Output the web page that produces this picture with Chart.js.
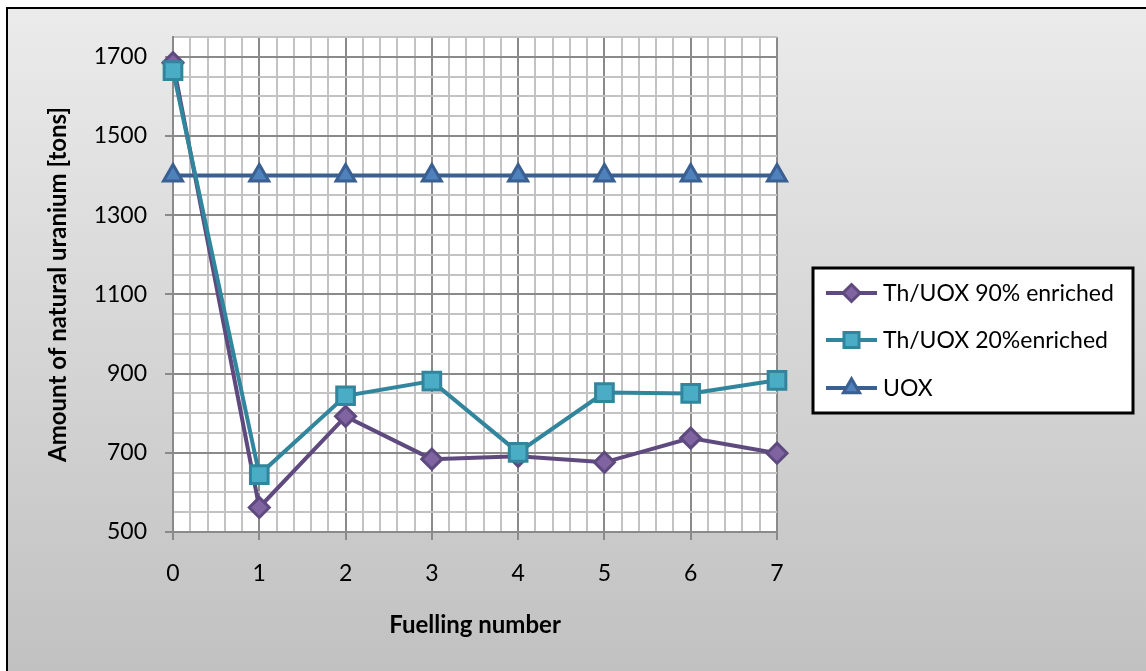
<!DOCTYPE html>
<html>
<head>
<meta charset="utf-8">
<script src="https://cdn.jsdelivr.net/npm/chart.js@4/dist/chart.umd.min.js"></script>
<style>
  html, body { margin: 0; padding: 0; background: #ffffff; }
  #wrap { width: 1146px; height: 671px; }
</style>
</head>
<body>
<div id="wrap"><canvas id="c" width="1146" height="671"></canvas></div>
<script>
// Fuelling numbers (x axis)
const fuellings = [0, 1, 2, 3, 4, 5, 6, 7];

// Amount of natural uranium [tons] per fuelling
const th90 = [1685, 562, 792, 684, 691, 676, 737, 699];
const th20 = [1665, 645, 844, 881, 701, 852, 850, 883];
const uox  = [1400, 1400, 1400, 1400, 1400, 1400, 1400, 1400];

const seriesNames = ['Th/UOX 90% enriched', 'Th/UOX 20%enriched', 'UOX'];

// Labelled ticks
const xTickLabels = ['0', '1', '2', '3', '4', '5', '6', '7'];
const yTickLabels = ['500', '700', '900', '1100', '1300', '1500', '1700'];
const yLabelStart = 500, yLabelStep = 200;

const FONT = 'Lato, "Open Sans", sans-serif';

function toPoints(vals) {
  return fuellings.map((f, i) => ({ x: f, y: vals[i] }));
}

const isXMajor = v => Math.abs(v - Math.round(v)) < 1e-6;
const isYMajor = v => Math.abs(((v - yLabelStart) % yLabelStep)) < 1e-6;

// Marker shapes for the legend samples (same geometry as Chart.js point styles)
function drawMarker(ctx, style, x, y, r, fill, stroke, lw) {
  ctx.save();
  ctx.beginPath();
  if (style === 'rectRot') {
    ctx.moveTo(x, y - r); ctx.lineTo(x + r, y); ctx.lineTo(x, y + r); ctx.lineTo(x - r, y);
  } else if (style === 'rect') {
    const s = Math.SQRT1_2 * r;
    ctx.rect(x - s, y - s, 2 * s, 2 * s);
  } else if (style === 'triangle') {
    for (let k = 0; k < 3; k++) {
      const a = k * 2 * Math.PI / 3;
      const px = x + Math.sin(a) * r, py = y - Math.cos(a) * r;
      if (k === 0) ctx.moveTo(px, py); else ctx.lineTo(px, py);
    }
  }
  ctx.closePath();
  ctx.fillStyle = fill; ctx.fill();
  ctx.lineWidth = lw; ctx.strokeStyle = stroke; ctx.lineJoin = 'miter'; ctx.stroke();
  ctx.restore();
}

// Background panel with gradient, frame and white plot area
const panelPlugin = {
  id: 'panel',
  beforeDraw(chart) {
    const { ctx, width, height, chartArea } = chart;
    ctx.save();
    const g = ctx.createLinearGradient(0, 8, 0, height);
    g.addColorStop(0, '#ebebeb');
    g.addColorStop(1, '#c1c1c1');
    ctx.fillStyle = '#ffffff';
    ctx.fillRect(0, 0, width, height);
    ctx.fillStyle = g;
    ctx.fillRect(8, 9, width - 8, height - 9);
    ctx.strokeStyle = '#000000';
    ctx.lineWidth = 2;
    ctx.beginPath();
    ctx.moveTo(7, height + 5); ctx.lineTo(7, 8); ctx.lineTo(width + 5, 8);
    ctx.stroke();
    ctx.fillStyle = '#ffffff';
    ctx.fillRect(chartArea.left, chartArea.top, chartArea.right - chartArea.left, chartArea.bottom - chartArea.top);
    ctx.restore();
  }
};

// Boxed legend to the right of the plot
const legendPlugin = {
  id: 'boxLegend',
  afterDraw(chart) {
    const { ctx } = chart;
    const box = { left: 813, top: 268, right: 1133, bottom: 413 };
    ctx.save();
    ctx.fillStyle = '#ffffff';
    ctx.fillRect(box.left, box.top, box.right - box.left, box.bottom - box.top);
    ctx.lineWidth = 3;
    ctx.strokeStyle = '#000000';
    ctx.strokeRect(box.left, box.top, box.right - box.left, box.bottom - box.top);
    const rows = [293, 340, 388];
    chart.data.datasets.forEach((ds, i) => {
      const y = rows[i];
      ctx.beginPath();
      ctx.moveTo(826, y); ctx.lineTo(877, y);
      ctx.lineWidth = ds.borderWidth; ctx.strokeStyle = ds.borderColor; ctx.stroke();
      drawMarker(ctx, ds.pointStyle, 851.5, y, ds.pointRadius * 0.85, ds.pointBackgroundColor, ds.pointBorderColor, ds.pointBorderWidth);
      ctx.fillStyle = '#000000';
      ctx.font = '23px ' + FONT;
      ctx.textBaseline = 'middle';
      ctx.textAlign = 'left';
      ctx.fillText(ds.label, 883, y + 1);
    });
    ctx.restore();
  }
};

const chart = new Chart(document.getElementById('c'), {
  type: 'line',
  data: {
    datasets: [
      {
        label: seriesNames[0],
        data: toPoints(th90),
        borderColor: '#5e4a7e', borderWidth: 4,
        pointStyle: 'rectRot', pointRadius: 10,
        pointBackgroundColor: '#8064a2', pointBorderColor: '#5e4a7e', pointBorderWidth: 3,
        tension: 0, clip: false, order: 1
      },
      {
        label: seriesNames[1],
        data: toPoints(th20),
        borderColor: '#31859c', borderWidth: 4,
        pointStyle: 'rect', pointRadius: 12.5,
        pointBackgroundColor: '#4bacc6', pointBorderColor: '#31859c', pointBorderWidth: 3,
        tension: 0, clip: false, order: 0
      },
      {
        label: seriesNames[2],
        data: toPoints(uox),
        borderColor: '#3a5f91', borderWidth: 4,
        pointStyle: 'triangle', pointRadius: 11,
        pointBackgroundColor: '#4f81bd', pointBorderColor: '#3a5f91', pointBorderWidth: 3,
        tension: 0, clip: false, order: 2
      }
    ]
  },
  options: {
    responsive: false,
    animation: false,
    events: [],
    layout: { padding: { left: 0, top: 37, right: 369, bottom: 0 } },
    plugins: { legend: { display: false }, tooltip: { enabled: false } },
    scales: {
      x: {
        type: 'linear', min: 0, max: 7,
        afterFit(s) { s.height = 139; },
        ticks: {
          stepSize: 0.2, maxTicksLimit: 100, autoSkip: false, maxRotation: 0,
          padding: 20, color: '#000000', font: { family: FONT, size: 23 },
          callback(v) { return isXMajor(v) ? xTickLabels[Math.round(v)] : ''; }
        },
        grid: {
          color: c => isXMajor(c.tick.value) ? '#8a8a8a' : '#c3c3c3',
          lineWidth: 2,
          tickLength: 8,
          tickColor: c => isXMajor(c.tick.value) ? '#8a8a8a' : 'rgba(0,0,0,0)',
          tickWidth: 2
        },
        border: { display: true, color: '#8a8a8a', width: 2 },
        title: {
          display: true, text: 'Fuelling number', color: '#000000',
          font: { family: FONT, size: 24, weight: 'bold' },
          padding: { top: 0, bottom: 31 }
        }
      },
      y: {
        type: 'linear', min: 500, max: 1750,
        afterFit(s) { s.width = 173; },
        ticks: {
          stepSize: 50, maxTicksLimit: 100, autoSkip: false,
          padding: 18, color: '#000000', font: { family: FONT, size: 23 },
          callback(v) {
            return isYMajor(v) ? yTickLabels[Math.round((v - yLabelStart) / yLabelStep)] : '';
          }
        },
        grid: {
          color: c => isYMajor(c.tick.value) ? '#8a8a8a' : '#c3c3c3',
          lineWidth: 2,
          tickLength: 8,
          tickColor: c => isYMajor(c.tick.value) ? '#8a8a8a' : 'rgba(0,0,0,0)',
          tickWidth: 2
        },
        border: { display: true, color: '#8a8a8a', width: 2 },
        title: {
          display: true, text: 'Amount of natural uranium [tons]', color: '#000000',
          font: { family: FONT, size: 24, weight: 'bold' },
          padding: { top: 44, bottom: 0 }
        }
      }
    }
  },
  plugins: [panelPlugin, legendPlugin]
});
</script>
</body>
</html>
